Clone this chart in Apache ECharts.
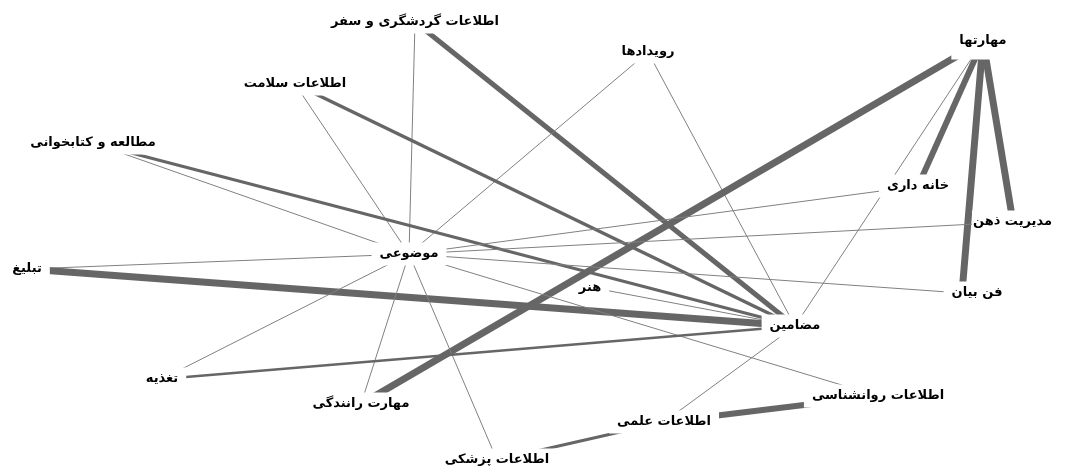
<!DOCTYPE html>
<html>
<head>
<meta charset="utf-8">
<script src="https://cdn.jsdelivr.net/npm/echarts@6/dist/echarts.min.js"></script>
<style>
	html, body { margin: 0; padding: 0; background: #fff; }
	#main { width: 1072px; height: 466px; }
</style>
</head>
<body>
<div id="main"></div>
<script>
// node names and their positions
var names = [
	'اطلاعات گردشگری و سفر', 'رویدادها', 'مهارتها', 'اطلاعات سلامت',
	'مطالعه و کتابخوانی', 'خانه داری', 'مدیریت ذهن', 'موضوعی',
	'تبلیغ', 'هنر', 'فن بیان', 'مضامین', 'تغذیه', 'مهارت رانندگی',
	'اطلاعات روانشناسی', 'اطلاعات علمی', 'اطلاعات پزشکی'
];
var xs = [415, 648, 983, 295, 93, 918, 1013, 409, 27, 594, 962, 795, 162, 361, 878, 664, 497];
var ys = [22, 52, 41, 84, 143, 186, 222, 254, 269, 288, 293, 326, 379, 404, 396, 422, 460];

// links: source, target, weight
var sources = [
	'اطلاعات گردشگری و سفر', 'اطلاعات گردشگری و سفر', 'رویدادها', 'رویدادها',
	'مهارتها', 'مهارتها', 'مهارتها', 'مهارتها', 'مهارتها',
	'اطلاعات سلامت', 'اطلاعات سلامت', 'مطالعه و کتابخوانی', 'مطالعه و کتابخوانی',
	'خانه داری', 'مدیریت ذهن', 'موضوعی', 'تبلیغ', 'تبلیغ',
	'موضوعی', 'موضوعی', 'موضوعی', 'موضوعی',
	'تغذیه', 'هنر', 'اطلاعات علمی', 'اطلاعات روانشناسی', 'اطلاعات علمی'
];
var targets = [
	'مضامین', 'موضوعی', 'موضوعی', 'مضامین',
	'مهارت رانندگی', 'خانه داری', 'فن بیان', 'مدیریت ذهن', 'مضامین',
	'مضامین', 'موضوعی', 'مضامین', 'موضوعی',
	'موضوعی', 'موضوعی', 'فن بیان', 'موضوعی', 'مضامین',
	'تغذیه', 'مهارت رانندگی', 'اطلاعات پزشکی', 'اطلاعات روانشناسی',
	'مضامین', 'مضامین', 'مضامین', 'اطلاعات علمی', 'اطلاعات پزشکی'
];
var weights = [
	5, 1, 1, 1,
	7, 6, 7, 7, 1,
	3.5, 1, 3, 1,
	1, 1, 1, 1, 7,
	1, 1, 1, 1,
	2.5, 1, 1, 6, 3
];

// a few labels need their own box so crossing lines stay visible
var labelFix = {
	'مدیریت ذهن': { padding: [5, 2, 5, 1] },
	'هنر': { padding: [0, 8, 0, 0] },
	'مهارتها': { padding: [12, 8] },
	'فن بیان': { offset: [15, 0] }
};

var myChart = echarts.init(document.getElementById('main'));

var nodes = [];
for (var i = 0; i < names.length; i++) {
	var n = { name: names[i], x: xs[i], y: ys[i] };
	if (labelFix[names[i]]) {
		n.label = labelFix[names[i]];
	}
	nodes.push(n);
}
var links = [];
for (var k = 0; k < sources.length; k++) {
	links.push({
		source: sources[k],
		target: targets[k],
		lineStyle: {
			width: weights[k],
			color: weights[k] > 1 ? '#666' : '#808080'
		}
	});
}

var minX = Math.min.apply(null, xs), maxX = Math.max.apply(null, xs);
var minY = Math.min.apply(null, ys), maxY = Math.max.apply(null, ys);

var option = {
	animation: false,
	series: [{
		type: 'graph',
		layout: 'none',
		left: minX,
		top: minY,
		width: maxX - minX,
		height: maxY - minY,
		symbolSize: 1,
		itemStyle: { color: 'rgba(0,0,0,0)' },
		label: {
			show: true,
			position: 'inside',
			color: '#000',
			fontFamily: 'DejaVu Sans',
			fontWeight: 'bold',
			fontSize: 13,
			backgroundColor: '#fff',
			padding: [5, 8]
		},
		lineStyle: { opacity: 1, curveness: 0 },
		emphasis: { disabled: true },
		data: nodes,
		links: links
	}]
};
myChart.setOption(option, true);
</script>
</body>
</html>
